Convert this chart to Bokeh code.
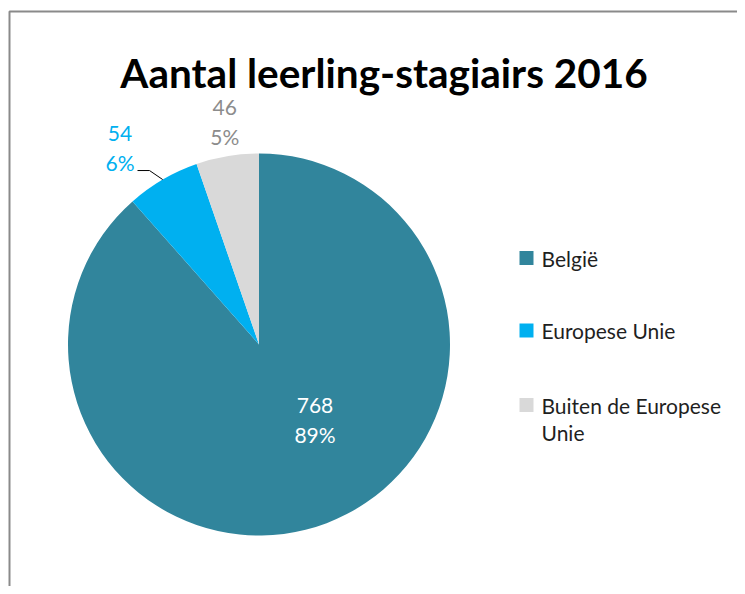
import numpy as np
from bokeh.plotting import figure
from bokeh.models import Range1d, ColumnDataSource
from bokeh.core.properties import value
from bokeh.embed import file_html
from bokeh.resources import INLINE

# ---- data ----
title = "Aantal leerling-stagiairs 2016"
categories = ["België", "Europese Unie", "Buiten de Europese Unie"]
counts = [768, 54, 46]
percent_labels = ["89%", "6%", "5%"]
colors = ["#31859C", "#00B0F0", "#D9D9D9"]
label_colors = ["#FFFFFF", "#00B0F0", "#8C8C8C"]
legend_lines = [["België"], ["Europese Unie"], ["Buiten de Europese", "Unie"]]
# label placement: radius factor and angular shift (deg, clockwise) from slice middle
label_rf = [0.49, 1.26, 1.18]
label_shift = [-16.0, -5.0, 0.8]

FONT = "Lato"
W, H = 737, 586
cx, cy, R = 258.5, 242.0, 191.0

p = figure(width=W, height=H, x_range=Range1d(0, W), y_range=Range1d(0, H),
           output_backend="svg", toolbar_location=None, min_border=0,
           x_axis_location=None, y_axis_location=None)
p.grid.visible = False
p.outline_line_color = None
p.background_fill_color = "white"
p.border_fill_color = "white"

# frame border (top + left visible)
p.line(x=[9, 9, W + 10], y=[-10, 575, 575], line_color="#8A8A8A", line_width=2)

# title
p.text(x=[383.5], y=[514], text=[title], text_font=value(FONT), text_font_style="bold",
       text_font_size="40.5px", text_align="center", text_baseline="alphabetic",
       text_color="black")

# pie
vals = np.array(counts, dtype=float)
frac = vals / vals.sum()
cum_end = np.cumsum(frac)
cum_start = cum_end - frac
start_angle = np.pi / 2 - 2 * np.pi * cum_start
end_angle = np.pi / 2 - 2 * np.pi * cum_end
src = ColumnDataSource(dict(start=start_angle, end=end_angle, color=colors, cat=categories))
p.wedge(x=cx, y=cy, radius=R, start_angle="start", end_angle="end", direction="clock",
        fill_color="color", line_color=None, source=src)

# data labels
mid = (cum_start + cum_end) / 2
lab_x, lab_y = [], []
for i in range(len(counts)):
    phi = np.pi / 2 - 2 * np.pi * mid[i] - np.radians(label_shift[i])
    lx = cx + label_rf[i] * R * np.cos(phi)
    ly = cy + label_rf[i] * R * np.sin(phi)
    lab_x.append(lx)
    lab_y.append(ly)
    p.text(x=[lx, lx], y=[ly + 14.5, ly - 14.5], text=[str(counts[i]), percent_labels[i]],
           text_font=value(FONT), text_font_size="21px", text_align="center",
           text_baseline="middle", text_color=label_colors[i])

# leader line for Europese Unie label
i = 1
phi = np.pi / 2 - 2 * np.pi * mid[i]
ex, ey = cx + R * np.cos(phi), cy + R * np.sin(phi)
p.line(x=[lab_x[i] + 17.5, lab_x[i] + 29.5, ex], y=[lab_y[i] - 22.5, lab_y[i] - 22.5, ey],
       line_color="black", line_width=1)

# legend
leg_sq_x = 526
leg_y = [328.5, 256.0, 181.5]
for i in range(len(categories)):
    p.rect(x=[leg_sq_x], y=[leg_y[i]], width=14, height=14, fill_color=colors[i], line_color=None)
    lines = legend_lines[i]
    p.text(x=[541] * len(lines), y=[leg_y[i] - k * 27 for k in range(len(lines))], text=lines,
           text_font=value(FONT), text_font_size="21px", text_align="left",
           text_baseline="middle", text_color="#1F1F1F")

open("out.html", "w").write(file_html(p, INLINE))
